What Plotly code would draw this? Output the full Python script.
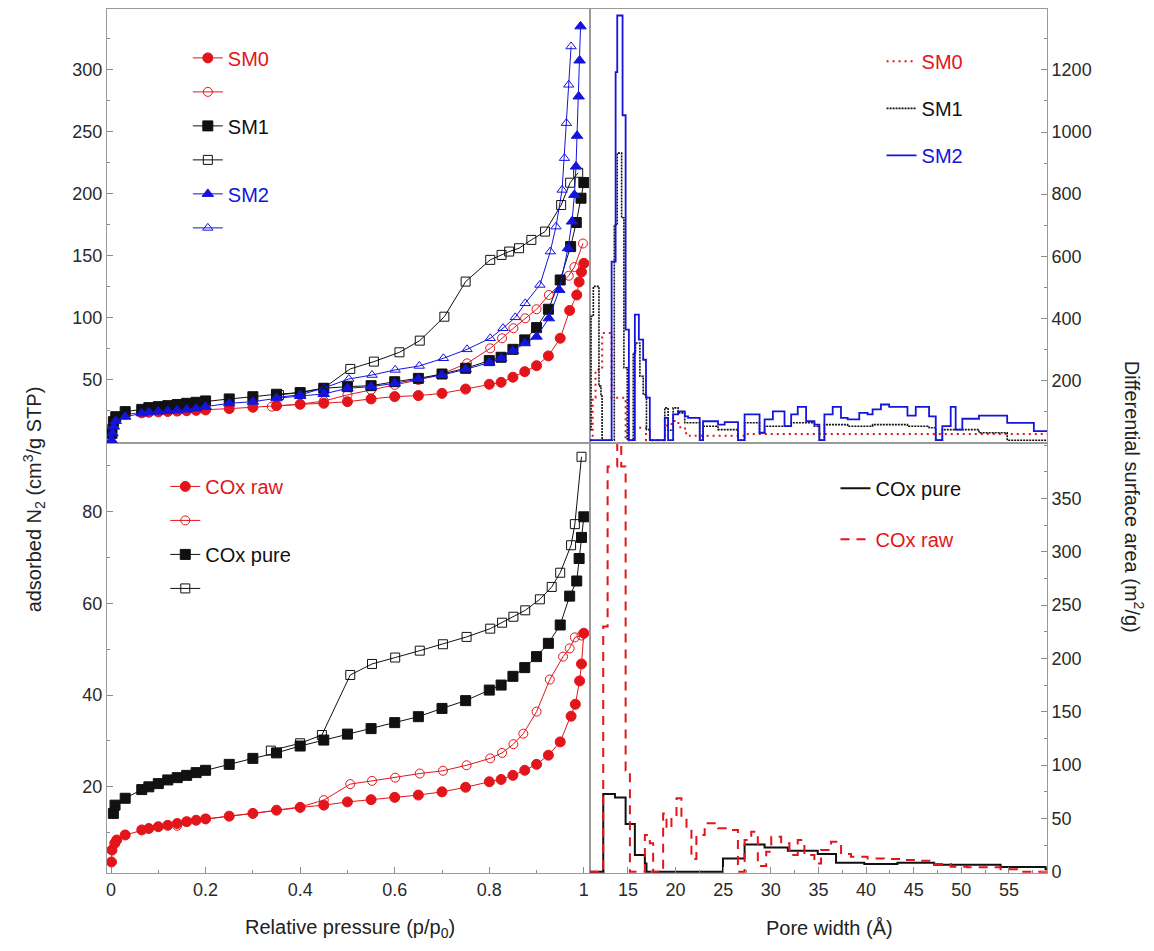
import plotly.graph_objects as go

RED = "#e3151b"
BLUE = "#1414dc"
BLACK = "#111111"

# ---------------- Isotherms (top-left: SM series) ----------------
sm0_ads_p = [0.002, 0.005, 0.01, 0.03, 0.065, 0.08, 0.1, 0.12, 0.14, 0.16, 0.18, 0.2, 0.25, 0.3, 0.35, 0.4, 0.45,
             0.5, 0.55, 0.6, 0.65, 0.7, 0.75, 0.8, 0.825, 0.85, 0.875, 0.9, 0.925, 0.95, 0.97, 0.985, 0.99, 0.995, 1.0]
sm0_ads_v = [12, 17, 19.5, 22.5, 23.5, 24, 24.3, 24.6, 24.9, 25.2, 25.5, 25.8, 26.9, 28.0, 29.3, 30.4, 31.2,
             32.5, 34.7, 36.6, 37.4, 39.2, 42.7, 46.5, 48.1, 52.2, 56.7, 61.5, 69.4, 83.6, 106, 118.5, 129, 137, 144]
sm0_des_p = [0.998, 0.98, 0.968, 0.926, 0.9, 0.876, 0.851, 0.827, 0.802, 0.753, 0.7, 0.65, 0.6, 0.55, 0.5, 0.45, 0.4, 0.34]
sm0_des_v = [160, 141, 134, 118.5, 107, 99.7, 91.7, 83.6, 75.5, 63.4, 55, 50, 46, 42, 38, 33, 30.5, 28.5]

sm1_ads_p = [0.002, 0.005, 0.01, 0.03, 0.065, 0.08, 0.1, 0.12, 0.14, 0.16, 0.18, 0.2, 0.25, 0.3, 0.35, 0.4, 0.45,
             0.5, 0.55, 0.6, 0.65, 0.7, 0.75, 0.8, 0.825, 0.85, 0.875, 0.9, 0.925, 0.95, 0.972, 0.984, 0.994, 1.0]
sm1_ads_v = [7, 16.4, 20.4, 24.5, 26.3, 27.7, 28.5, 29.3, 30.2, 31.2, 32.0, 33.1, 34.7, 36.5, 38.5, 39.8, 43.3,
             44.6, 45.4, 48.6, 51.3, 54.8, 59.4, 65.6, 68.3, 74.7, 82.3, 92.2, 107, 130.6, 157.5, 176.9, 196.5, 209.1]
sm1_des_p = [0.988, 0.971, 0.952, 0.918, 0.889, 0.863, 0.842, 0.826, 0.802, 0.75, 0.705, 0.653, 0.61, 0.556,
             0.506, 0.45, 0.4, 0.355]
sm1_des_v = [217, 209, 191, 169.6, 162.9, 156.2, 153.5, 150.8, 146.8, 129.3, 101, 81.7, 72.3, 64.8,
             58.9, 43.5, 40, 37.9]

sm2_ads_p = [0.001, 0.003, 0.006, 0.01, 0.03, 0.065, 0.08, 0.1, 0.12, 0.14, 0.16, 0.18, 0.2, 0.25, 0.3, 0.35, 0.4,
             0.45, 0.5, 0.55, 0.6, 0.65, 0.7, 0.75, 0.8, 0.825, 0.85, 0.875, 0.9, 0.926, 0.948, 0.9665, 0.975,
             0.98, 0.9834, 0.9856, 0.989, 0.991, 0.993]
sm2_ads_v = [1.6, 7, 12.4, 17, 20.4, 23.1, 24, 24.5, 25, 25.5, 26.2, 27.0, 28.5, 31.2, 32.5, 35.2, 37.1,
             38.7, 43.3, 44.6, 47.3, 50.8, 54, 58.6, 64, 67.5, 73.6, 79.6, 84.9, 99.7, 122.6, 156.2, 177.7,
             199.2, 222, 246.8, 278.5, 307.5, 335]
sm2_des_p = [0.973, 0.968, 0.963, 0.959, 0.954, 0.941, 0.929, 0.907, 0.876, 0.855, 0.829, 0.802, 0.753, 0.703,
             0.652, 0.601, 0.552, 0.503, 0.45, 0.4, 0.35]
sm2_des_v = [318.8, 287.9, 257, 228.8, 203.2, 173.6, 153.5, 126.6, 111.8, 100.5, 91.7, 83.6, 74.7, 67.5,
             61.3, 58.1, 54, 50.8, 43.5, 38, 36]

# ---------------- Isotherms (bottom-left: COx) ----------------
coxraw_ads_p = [0.001, 0.002, 0.008, 0.012, 0.03, 0.065, 0.08, 0.1, 0.12, 0.14, 0.16, 0.18, 0.2, 0.25, 0.3, 0.35,
                0.4, 0.45, 0.5, 0.55, 0.6, 0.65, 0.7, 0.75, 0.8, 0.825, 0.85, 0.875, 0.9, 0.925, 0.95, 0.973,
                0.982, 0.991, 0.995, 1.0]
coxraw_ads_v = [3.6, 6.2, 7.7, 8.4, 9.5, 10.6, 10.9, 11.3, 11.6, 12.0, 12.4, 12.7, 13.0, 13.6, 14.2, 14.9,
                15.5, 16.0, 16.7, 17.2, 17.7, 18.2, 18.9, 19.9, 21.1, 21.6, 22.5, 23.6, 24.9, 26.9, 29.8, 35.4,
                38.0, 43.1, 46.8, 53.5]
coxraw_des_p = [0.995, 0.981, 0.97, 0.956, 0.928, 0.9, 0.872, 0.851, 0.827, 0.802, 0.752, 0.702, 0.653, 0.601,
                0.552, 0.506, 0.45, 0.4, 0.3, 0.2, 0.14]
coxraw_des_v = [53.0, 52.6, 50.2, 48.4, 43.4, 36.4, 31.6, 29.3, 27.4, 26.2, 24.7, 23.5, 22.9, 22.0,
                21.3, 20.6, 17.1, 15.6, 14.2, 13.0, 11.5]

coxpure_ads_p = [0.005, 0.0085, 0.03, 0.065, 0.08, 0.1, 0.12, 0.14, 0.16, 0.18, 0.2, 0.25, 0.3, 0.35, 0.4, 0.45,
                 0.5, 0.55, 0.6, 0.65, 0.7, 0.75, 0.8, 0.825, 0.85, 0.875, 0.9, 0.925, 0.95, 0.97, 0.985, 0.99,
                 0.995, 1.0]
coxpure_ads_v = [14.2, 16.0, 17.5, 19.4, 20.0, 20.7, 21.5, 22.0, 22.5, 23.1, 23.6, 24.9, 26.2, 27.4, 28.9, 30.2,
                 31.5, 32.7, 34.0, 35.3, 37.1, 38.8, 41.1, 42.2, 44.1, 46.0, 48.4, 51.3, 55.3, 61.6, 64.9, 69.8,
                 74.4, 78.9]
coxpure_des_p = [0.995, 0.981, 0.973, 0.95, 0.932, 0.907, 0.876, 0.851, 0.827, 0.802, 0.752, 0.702, 0.653, 0.601,
                 0.552, 0.506, 0.446, 0.40, 0.338]
coxpure_des_v = [92.0, 77.3, 72.7, 66.7, 63.6, 60.9, 58.5, 57.1, 55.8, 54.5, 52.7, 51.1, 49.7, 48.2,
                 46.8, 44.4, 31.3, 29.5, 27.9]

# ---------------- Pore size distributions (bin edges in Å, values in m2/g) ----------------
sm2_edges = [11.02, 13.29, 13.71, 13.88, 14.44, 14.76, 15.1, 15.73, 16.15, 16.6, 16.9, 17.3, 18.87, 19.22, 19.75,
             20.27, 20.97, 21.32, 22.54, 22.89, 24.46, 25.16, 26.56, 27.25, 28.82, 29.35, 30.22, 31.44, 32.14,
             32.83, 33.71, 34.58, 35.1, 35.63, 36.5, 37.37, 38.07, 39.29, 40.16, 40.69, 41.56, 42.43, 44.35,
             45.22, 46.62, 47.32, 48.01, 48.89, 49.41, 50.11, 51.86, 54.82, 57.62, 59.02]
sm2_vals = [8, 583, 1193, 1375, 1054, 364, 8, 412, 332, 267, 145, 8, 80, 8, 91, 101, 85, 80, 8, 69, 58, 66, 8,
            91, 32, 75, 101, 53, 91, 115, 69, 58, 8, 91, 115, 80, 75, 96, 91, 107, 123, 115, 87, 115, 85, 8,
            53, 115, 42, 77, 87, 64, 37]

sm1_edges = [11.02, 11.13, 11.37, 11.96, 12.17, 12.29, 13.57, 13.88, 14.34, 14.58, 14.93, 15.56, 15.8, 16.26,
             16.61, 16.95, 17.3, 18.87, 19.22, 19.75, 20.27, 20.97, 22.54, 22.89, 24.46, 26.56, 27.25, 28.82,
             29.35, 32.14, 34.58, 35.1, 35.63, 38.07, 40.69, 44.35, 46.62, 47.32, 48.01, 51.86, 54.82, 59.02]
sm1_vals = [42, 407, 503, 182, 150, 8, 701, 932, 724, 241, 8, 289, 321, 214, 155, 42, 8, 112, 40, 112,
            96, 64, 8, 53, 42, 8, 64, 32, 53, 64, 53, 8, 58, 53, 58, 53, 48, 8, 42, 32, 8]

sm0_edges = [11.02, 11.3, 11.6, 12.3, 13.29, 14.76, 15.1, 16.9, 18.9, 19.6, 20.3, 21.0, 21.5, 27.25, 59.02]
sm0_vals = [8, 145, 235, 353, 145, 8, 48, 8, 55, 70, 50, 30, 22, 28]

coxpure_edges = [11.02, 12.41, 13.64, 14.76, 15.73, 16.78, 16.95, 24.98, 27.25, 29.35, 31.79, 34.93, 36.85,
                 39.82, 43.3, 47.15, 54.13, 58.85, 59.02]
coxpure_vals = [0, 72.8, 69.6, 44.7, 15.6, 7.8, 0, 12.5, 25.6, 22.8, 19.7, 16.6, 8.5, 7.2, 8.5, 6.6, 4.4, 2.2]

coxraw_edges = [11.02, 12.41, 12.87, 13.88, 14.3, 14.76, 15.21, 16.78, 17.3, 17.65, 18.7, 19.05, 19.57, 20.1,
                20.62, 21.15, 21.67, 22.19, 23.06, 24.46, 25.86, 26.55, 27.25, 27.95, 28.64, 29.52, 30.05,
                31.09, 31.96, 32.83, 33.53, 34.58, 35.28, 36.33, 37.38, 38.42, 40.16, 41.91, 43.66, 45.4,
                47.15, 48.89, 50.63, 54.13, 55.87, 59.02]
coxraw_vals = [0, 230, 380, 410, 380, 95, 0, 34.4, 26.6, 0, 54.7, 40.7, 51.6, 68.8, 50, 42.2, 12, 34.4, 45.4,
               40.7, 39.1, 0, 29.7, 37.5, 5.3, 18.7, 32.8, 26.6, 15.6, 29.7, 15.6, 7.8, 20.3, 28.1, 16.6,
               14.1, 12.5, 11.9, 10.9, 10.3, 7.2, 4.7, 4.1, 2.2, 0]

# tick labels
p_ticks = [0, 0.2, 0.4, 0.6, 0.8, 1]
p_ticktext = ["0", "0.2", "0.4", "0.6", "0.8", "1"]
w_ticks = [15, 20, 25, 30, 35, 40, 45, 50, 55]
y_tl_ticks = [50, 100, 150, 200, 250, 300]
y_bl_ticks = [20, 40, 60, 80]
y_tr_ticks = [200, 400, 600, 800, 1000, 1200]
y_br_ticks = [0, 50, 100, 150, 200, 250, 300, 350]


def steps(edges, vals):
    assert len(edges) == len(vals) + 1
    return list(edges), list(vals) + [vals[-1]]


def colored(txt, col):
    return '<span style="color:%s">%s</span>' % (col, txt)


fig = go.Figure()


def iso(p, v, name, color, symbol, xa, ya, legend, group):
    fig.add_trace(go.Scatter(
        x=p, y=v, mode="lines+markers", name=name, legend=legend, legendgroup=group,
        xaxis=xa, yaxis=ya,
        line=dict(color=color, width=1),
        marker=dict(symbol=symbol, size=10 if "open" not in symbol else 9, color=color,
                    line=dict(color=color, width=1)),
    ))


# top-left
iso(sm0_ads_p, sm0_ads_v, colored("SM0", RED), RED, "circle", "x3", "y3", "legend", "a")
iso(sm0_des_p, sm0_des_v, " ", RED, "circle-open", "x3", "y3", "legend", "b")
iso(sm1_ads_p, sm1_ads_v, colored("SM1", BLACK), BLACK, "square", "x3", "y3", "legend", "c")
iso(sm1_des_p, sm1_des_v, " ", BLACK, "square-open", "x3", "y3", "legend", "d")
iso(sm2_ads_p, sm2_ads_v, colored("SM2", BLUE), BLUE, "triangle-up", "x3", "y3", "legend", "e")
iso(sm2_des_p, sm2_des_v, " ", BLUE, "triangle-up-open", "x3", "y3", "legend", "f")

# bottom-left
iso(coxraw_ads_p, coxraw_ads_v, colored("COx raw", RED), RED, "circle", "x", "y", "legend3", "g")
iso(coxraw_des_p, coxraw_des_v, " ", RED, "circle-open", "x", "y", "legend3", "h")
iso(coxpure_ads_p, coxpure_ads_v, colored("COx pure", BLACK), BLACK, "square", "x", "y", "legend3", "i")
iso(coxpure_des_p, coxpure_des_v, " ", BLACK, "square-open", "x", "y", "legend3", "j")


def psd(edges, vals, name, color, dash, width, xa, ya, legend, group):
    xs, ys = steps(edges, vals)
    fig.add_trace(go.Scatter(
        x=xs, y=ys, mode="lines", name=name, legend=legend, legendgroup=group,
        xaxis=xa, yaxis=ya, line=dict(color=color, width=width, dash=dash, shape="hv"),
    ))


# top-right
psd(sm0_edges, sm0_vals, colored("SM0", RED), RED, "2px,4px", 2, "x4", "y4", "legend2", "k")
psd(sm1_edges, sm1_vals, colored("SM1", BLACK), BLACK, "2px,1px", 1.6, "x4", "y4", "legend2", "l")
psd(sm2_edges, sm2_vals, colored("SM2", BLUE), BLUE, "solid", 1.8, "x4", "y4", "legend2", "m")

# bottom-right
psd(coxpure_edges, coxpure_vals, colored("COx pure", BLACK), BLACK, "solid", 2, "x2", "y2", "legend4", "n")
psd(coxraw_edges, coxraw_vals, colored("COx raw", RED), RED, "9px,7px", 2, "x2", "y2", "legend4", "o")

XSPLIT = (590 - 107) / 940.0
YSPLIT = (873 - 443) / 864.0

AX = dict(showline=True, mirror=True, linecolor="#9a9a9a", linewidth=1, ticks="inside", ticklen=6,
          tickcolor="#8a8a8a", showgrid=False, zeroline=False, automargin=False,
          tickfont=dict(family="Liberation Sans, Arial", size=18, color="#2a2a2a"))

fig.update_layout(
    width=1146, height=943,
    margin=dict(l=99, r=107, t=1, b=78, autoexpand=False),
    paper_bgcolor="white", plot_bgcolor="white",
    font=dict(family="Liberation Sans, Arial", color="#222"),
    xaxis=dict(AX, domain=[0, XSPLIT], anchor="y", range=[-0.0085, 1.013], tickvals=p_ticks,
               ticktext=p_ticktext, minor=dict(dtick=0.1, ticks="inside", ticklen=3, tickcolor="#8a8a8a")),
    yaxis=dict(AX, domain=[0, YSPLIT], anchor="x", range=[1.2, 95], tickvals=y_bl_ticks,
               minor=dict(dtick=10, ticks="inside", ticklen=3, tickcolor="#8a8a8a")),
    xaxis2=dict(AX, domain=[XSPLIT, 1], anchor="y2", range=[11.02, 59.0], tickvals=w_ticks,
                minor=dict(dtick=2.5, tick0=0, ticks="inside", ticklen=3, tickcolor="#8a8a8a")),
    yaxis2=dict(AX, domain=[0, YSPLIT], anchor="x2", side="right", range=[-1.2, 402], tickvals=y_br_ticks,
                minor=dict(dtick=25, ticks="inside", ticklen=3, tickcolor="#8a8a8a")),
    xaxis3=dict(AX, domain=[0, XSPLIT], anchor="y3", range=[-0.0085, 1.013], showticklabels=False,
                ticks=""),
    yaxis3=dict(AX, domain=[YSPLIT, 1], anchor="x3", range=[-0.8, 349], tickvals=y_tl_ticks,
                minor=dict(dtick=25, ticks="inside", ticklen=3, tickcolor="#8a8a8a")),
    xaxis4=dict(AX, domain=[XSPLIT, 1], anchor="y4", range=[11.02, 59.0], showticklabels=False, ticks=""),
    yaxis4=dict(AX, domain=[YSPLIT, 1], anchor="x4", side="right", range=[-1, 1396], tickvals=y_tr_ticks,
                minor=dict(dtick=100, ticks="inside", ticklen=3, tickcolor="#8a8a8a")),
    legend=dict(x=0.086, y=0.966, xanchor="left", yanchor="top", bgcolor="rgba(0,0,0,0)",
                font=dict(size=20), tracegroupgap=5),
    legend2=dict(x=0.824, y=0.962, xanchor="left", yanchor="top", bgcolor="rgba(0,0,0,0)",
                 font=dict(size=20), tracegroupgap=18),
    legend3=dict(x=0.062, y=0.470, xanchor="left", yanchor="top", bgcolor="rgba(0,0,0,0)",
                 font=dict(size=20), tracegroupgap=5),
    legend4=dict(x=0.775, y=0.468, xanchor="left", yanchor="top", bgcolor="rgba(0,0,0,0)",
                 font=dict(size=20), tracegroupgap=22),
    showlegend=True,
)

fig.add_annotation(text="adsorbed N<sub>2</sub> (cm<sup>3</sup>/g STP)", xref="paper", yref="paper",
                   x=-0.077, y=0.432, textangle=-90, showarrow=False, xanchor="center", yanchor="middle",
                   font=dict(size=20, color="#222"))
fig.add_annotation(text="Differential surface area (m<sup>2</sup>/g)", xref="paper", yref="paper",
                   x=1.093, y=0.435, textangle=90, showarrow=False, xanchor="center", yanchor="middle",
                   font=dict(size=20, color="#222"))
fig.add_annotation(text="Relative pressure (p/p<sub>0</sub>)", xref="paper", yref="paper",
                   x=0.2585, y=-0.064, showarrow=False, xanchor="center", yanchor="middle",
                   font=dict(size=20, color="#222"))
fig.add_annotation(text="Pore width (Å)", xref="paper", yref="paper",
                   x=0.769, y=-0.064, showarrow=False, xanchor="center", yanchor="middle",
                   font=dict(size=20, color="#222"))

fig.write_html("out.html")
